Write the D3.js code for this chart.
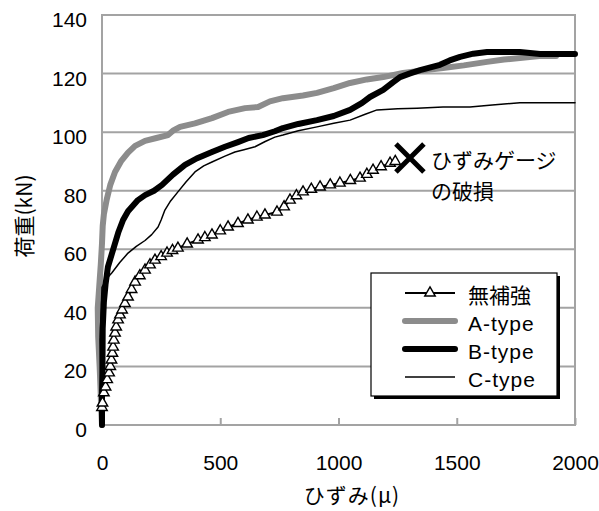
<!DOCTYPE html>
<html>
<head>
<meta charset="utf-8">
<script src="https://cdn.jsdelivr.net/npm/d3@7"></script>
<style>
  html, body { margin: 0; padding: 0; background: #fff; }
  text { font-family: "Liberation Sans", "Noto Sans CJK JP", sans-serif; }
  .jp { font-family: "Noto Sans CJK JP", sans-serif; }
</style>
</head>
<body>
<svg id="chart"></svg>
<script>
// strain (μ) / load (kN)
const plainStrain = [0,2,8,15,22,30,35,40,44,47,50,55,60,68,76,85,97,110,125,140,160,182,203,224,250,275,298,321,360,406,435,465,500,533,575,617,655,689,740,770,795,822,850,885,922,965,1006,1050,1091,1120,1146,1180,1218,1240];
const plainLoad   = [6,7.5,11,13,15.5,17.8,20,22.2,24.5,26.6,29,31.4,33.5,35.9,37.6,39.3,41.5,43.7,46.3,48.8,51,52.9,54.7,56.3,57.5,58.7,59.6,60.4,61.8,63.2,64,64.9,66.3,67.6,68.8,70,71,71.7,72.7,74.5,76.8,78.3,79.6,80.5,81.3,82,82.6,83.5,84.3,85.6,87,88.2,89.4,90];

const aStrain = [0,-3,-6,-10,-16,-18,-12,-5,0,3,8,20,35,55,80,110,140,182,230,279,300,330,393,465,533,605,660,710,765,850,909,980,1049,1120,1189,1273,1350,1442,1530,1628,1700,1767,1850,1920];
const aLoad   = [0,5,12,20,30,40,47,55,62,68,72,77,82,86.4,90,93,95.3,97,98,99,100.5,101.8,103,104.8,106.9,108.2,108.6,110.5,111.6,112.5,113.4,115,116.8,118,118.8,120.2,121,121.9,122.8,124,124.8,125.3,126,126];

const bStrain = [0,0,2,3,8,15,25,40,55,70,89,110,152,182,220,254,300,351,400,465,520,575,620,680,731,765,830,909,980,1049,1100,1133,1189,1230,1260,1300,1345,1429,1470,1514,1570,1628,1767,1852,2000];
const bLoad   = [0,10,20,33,42,48,54,58,62,66,70,73,76.8,78.5,80,82,85.5,88.8,91,93.2,95,96.6,98,99,100.3,101.4,102.8,104.1,105.5,107.6,110,112,114.4,117,118.8,120,121.2,123,124.5,125.7,126.8,127.4,127.4,126.7,126.7];

const cStrain = [0,-3,-6,-8,-4,0,20,42,75,110,145,182,210,237,250,266,290,321,355,393,430,465,520,562,600,647,690,731,765,830,909,980,1049,1110,1163,1250,1332,1442,1556,1650,1767,2000];
const cLoad   = [0,10,20,29,38,47,50,52,55.5,58.7,61,63,65,67.6,70,73.4,76.5,79.6,83,86.4,88.5,89.8,91.8,93.2,94,95,96.8,98.3,99,100.5,101.8,103,104.1,106,107.6,108,108.2,108.6,108.6,109.3,110,110];

const breakPoint = [1302, 91.2];

const legendNames = ["無補強", "A-type", "B-type", "C-type"];
const xTicks = [0, 500, 1000, 1500, 2000];
const yTicks = [0, 20, 40, 60, 80, 100, 120, 140];

const width = 599, height = 511;
const margin = {top: 15, right: 24, bottom: 86, left: 102};

const svg = d3.select("#chart")
  .attr("width", width)
  .attr("height", height);

svg.append("rect").attr("width", width).attr("height", height).attr("fill", "#fff");

const x = d3.scaleLinear().domain([0, 2000]).range([margin.left, width - margin.right]);
const y = d3.scaleLinear().domain([0, 140]).range([height - margin.bottom, margin.top]);

const grey = "#a3a3a3";

// grid
svg.append("g")
  .selectAll("line")
  .data(yTicks)
  .join("line")
  .attr("x1", x(0)).attr("x2", x(2000))
  .attr("y1", d => y(d)).attr("y2", d => y(d))
  .attr("stroke", grey)
  .attr("stroke-width", 2);

svg.append("rect")
  .attr("x", x(0)).attr("y", y(140))
  .attr("width", x(2000) - x(0)).attr("height", y(0) - y(140))
  .attr("fill", "none")
  .attr("stroke", grey)
  .attr("stroke-width", 2);

// axes
svg.append("g")
  .attr("transform", `translate(${x(0)},0)`)
  .call(d3.axisLeft(y).tickValues(yTicks).tickSize(0).tickPadding(15))
  .call(g => g.select(".domain").remove())
  .call(g => g.selectAll("text")
    .attr("font-family", "Liberation Sans, sans-serif")
    .attr("font-size", 21).attr("fill", "#000")
    .attr("dy", "0.55em"));

svg.append("g")
  .attr("transform", `translate(0,${y(0)})`)
  .call(d3.axisBottom(x).tickValues(xTicks).tickFormat(d3.format("d"))
    .tickSizeInner(-7).tickSizeOuter(0).tickPadding(30))
  .call(g => g.select(".domain").remove())
  .call(g => g.selectAll("line").attr("stroke", grey).attr("stroke-width", 2))
  .call(g => g.selectAll("text")
    .attr("font-family", "Liberation Sans, sans-serif")
    .attr("font-size", 21).attr("fill", "#000"));

svg.append("text")
  .attr("class", "jp")
  .attr("transform", `translate(32,216) rotate(-90)`)
  .attr("text-anchor", "middle")
  .attr("font-size", 21)
  .attr("fill", "#000")
  .text("荷重(kN)");

svg.append("text")
  .attr("class", "jp")
  .attr("x", 352).attr("y", 503)
  .attr("text-anchor", "middle")
  .attr("font-size", 21)
  .attr("letter-spacing", 1)
  .text("ひずみ(μ)");

// series
const toPts = (xs, ys) => xs.map((v, i) => [v, ys[i]]);
const line = d3.line().x(d => x(d[0])).y(d => y(d[1]));

function drawLine(pts, color, w) {
  svg.append("path")
    .datum(pts)
    .attr("d", line)
    .attr("fill", "none")
    .attr("stroke", color)
    .attr("stroke-width", w)
    .attr("stroke-linejoin", "round")
    .attr("stroke-linecap", "round");
}

drawLine(toPts(aStrain, aLoad), "#8c8c8c", 6);
drawLine(toPts(bStrain, bLoad), "#000", 6);
drawLine(toPts(cStrain, cLoad), "#000", 1.5);

const plainPts = toPts(plainStrain, plainLoad);
drawLine(plainPts, "#000", 2);
const tri = d3.symbol(d3.symbolTriangle).size(48);
svg.append("g")
  .selectAll("path")
  .data(plainPts)
  .join("path")
  .attr("transform", d => `translate(${x(d[0])},${y(d[1])})`)
  .attr("d", tri)
  .attr("fill", "#fff")
  .attr("stroke", "#000")
  .attr("stroke-width", 1.4);

// gauge broke
const bx = x(breakPoint[0]), by = y(breakPoint[1]);
svg.append("path")
  .attr("d", `M${bx - 14},${by - 14}L${bx + 14},${by + 14}M${bx + 14},${by - 14}L${bx - 14},${by + 14}`)
  .attr("stroke", "#000")
  .attr("stroke-width", 5);

svg.append("text").attr("class", "jp")
  .attr("x", bx + 21).attr("y", by + 10)
  .attr("font-size", 21)
  .text("ひずみゲージ");
svg.append("text").attr("class", "jp")
  .attr("x", bx + 21).attr("y", by + 41)
  .attr("font-size", 21)
  .text("の破損");

// legend
const lg = svg.append("g").attr("transform", "translate(371,273)");
lg.append("rect").attr("x", 3).attr("y", 3).attr("width", 186).attr("height", 123).attr("fill", "#000");
lg.append("rect").attr("width", 186).attr("height", 123).attr("fill", "#fff").attr("stroke", "#000").attr("stroke-width", 1.2);

const legendStyle = [
  {color: "#000", w: 2, marker: true},
  {color: "#8c8c8c", w: 6},
  {color: "#000", w: 6},
  {color: "#000", w: 1.5}
];

const item = lg.selectAll("g.item")
  .data(legendNames)
  .join("g")
  .attr("class", "item")
  .attr("transform", (d, i) => `translate(0,${20 + i * 28})`);

item.append("line")
  .attr("x1", 34).attr("x2", 84)
  .attr("stroke", (d, i) => legendStyle[i].color)
  .attr("stroke-width", (d, i) => legendStyle[i].w)
  .attr("stroke-linecap", (d, i) => legendStyle[i].w > 3 ? "round" : "butt");

item.filter((d, i) => legendStyle[i].marker)
  .append("path")
  .attr("transform", "translate(59,0)")
  .attr("d", tri)
  .attr("fill", "#fff")
  .attr("stroke", "#000")
  .attr("stroke-width", 1.4);

item.append("text")
  .attr("x", 97).attr("y", 10)
  .attr("font-size", 21)
  .attr("letter-spacing", (d, i) => i === 0 ? 0 : 1)
  .attr("font-family", (d, i) => i === 0 ? "Noto Sans CJK JP, sans-serif" : "Liberation Sans, sans-serif")
  .text(d => d);
</script>
</body>
</html>
